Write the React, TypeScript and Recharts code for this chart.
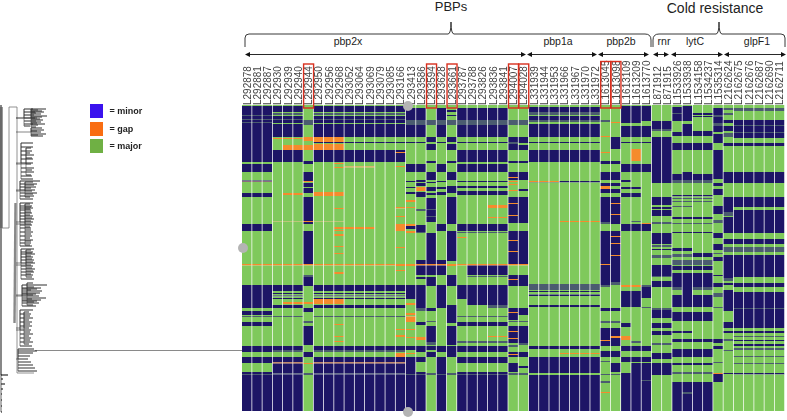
import React from "react";
import {
  BarChart,
  Bar,
  XAxis,
  YAxis,
  Legend,
  ScatterChart,
  Scatter,
  ReferenceLine,
} from "recharts";

// column labels, in the order of the picture
const columnLabels = [
  "L292878", "L292881", "L292887", "L292930", "L292939", "L292940", "L292944", "L292950", "L292956", "L292968",
  "L293052", "L293064", "L293069", "L293079", "L293085", "L293166", "L293413", "L293586", "L293594", "L293628",
  "L293661", "L293787", "L293788", "L293826", "L293836", "L293841", "L294007", "L294028",
  "L331939", "L331944", "L331953", "L331966", "L331967", "L331970", "L331972",
  "L1613045", "L1613098", "L1613109", "L1613209", "L1613770",
  "L871912", "L871915",
  "L1533926", "L1533938", "L1534158", "L1534237", "L1535314",
  "L2162624", "L2162675", "L2162676", "L2162687", "L2162690", "L2162711",
];

const boxedLabels = ["L292944", "L293594", "L293661", "L294007", "L294028", "L1613045", "L1613098"];

// runs: [from row, to row, kind]; m = minor, g = gap, s = mixed rows
type Run = [number, number, string];

const colA: Run[] = [[1, 57, "m"], [10, 11, "s"], [14, 15, "s"], [17, 18, "s"], [59, 67, "m"], [75.5, 77, "m"], [76, 76.5, "g"], [88, 92, "m"], [119, 126, "m"], [159, 160.5, "g"], [180, 203, "m"], [206, 210, "m"], [211, 212, "s"], [217, 221, "m"], [241, 247, "m"], [252, 258, "m"], [267, 306, "m"], [269, 270, "s"]];
const colB: Run[] = [[1, 7, "m"], [8, 10, "s"], [11, 18, "m"], [14, 15, "s"], [19, 32, "m"], [33, 34, "g"], [45, 57, "m"], [116, 116.7, "g"], [159, 160.5, "g"], [180, 186, "m"], [188, 189, "m"], [190.5, 191.5, "m"], [193, 194, "m"], [200, 203, "m"], [211, 212, "s"], [241, 245, "m"], [245, 247, "s"], [252, 306, "m"], [257.5, 258.5, "g"], [268.5, 269.5, "s"]];
const colBb: Run[] = [...colB, [40, 45, "g"], [88, 90, "g"], [197, 199, "g"]];
const colC: Run[] = [[15, 20, "s"], [32, 36, "g"], [40, 45, "g"], [56, 59, "m"], [67, 76, "m"], [76, 77, "g"], [78, 82, "m"], [83, 88, "m"], [92, 119, "m"], [116, 117, "g"], [126, 159, "m"], [159, 160.5, "g"], [170, 172, "s"], [172, 181, "m"], [197, 199, "g"], [203, 207, "m"], [216, 218, "s"], [221, 240, "m"], [247, 252, "m"], [258, 259, "g"], [268, 270, "s"]];
const colD: Run[] = [[1, 7, "m"], [8, 10, "s"], [11, 18, "m"], [14, 15, "s"], [19, 32, "m"], [32, 37, "g"], [37, 38, "m"], [39, 45, "g"], [45, 57, "m"], [87, 91, "g"], [116, 116.7, "g"], [159, 160.5, "g"], [180, 186, "m"], [188, 189, "m"], [190.5, 191.5, "m"], [193, 194, "m"], [194, 199, "g"], [200, 203, "m"], [211, 212, "s"], [241, 245, "m"], [245, 247, "s"], [252, 306, "m"], [257.5, 258.5, "g"], [268.5, 269.5, "s"]];
const colDc: Run[] = [...colD, [58, 59, "g"], [62, 63, "g"], [103, 104, "g"], [122, 124, "g"], [125, 126, "g"], [129, 131, "g"], [141, 142, "g"], [148, 149, "g"], [167, 169, "g"], [219, 220, "g"], [231, 232, "g"], [236, 237, "g"]];
const colE: Run[] = [[1, 7, "m"], [8, 10, "s"], [11, 18, "m"], [14, 15, "s"], [19, 32, "m"], [37, 38, "m"], [45, 57, "m"], [159, 160.5, "g"], [180, 186, "m"], [188, 189, "m"], [190.5, 191.5, "m"], [193, 194, "m"], [200, 203, "m"], [211, 212, "s"], [241, 245, "m"], [245, 247, "s"], [252, 306, "m"], [257.5, 258.5, "g"], [268.5, 269.5, "s"]];
const colEe: Run[] = [...colE, [61.5, 62.5, "g"], [122, 124, "g"]];
const col15: Run[] = [...colE, [47, 48, "g"], [61, 62, "g"], [102, 103.5, "g"], [111, 112, "g"], [119, 126, "g"], [142, 143, "g"], [159, 161, "g"], [165, 166, "g"], [224, 225, "g"], [230, 232, "g"], [248, 252, "g"]];
const col16: Run[] = [[3, 15, "m"], [15, 20, "s"], [20, 32, "m"], [37, 38, "m"], [59, 67, "m"], [76, 77, "m"], [82, 83, "m"], [87, 89, "m"], [95, 97, "g"], [102, 103, "g"], [119, 122, "g"], [121, 124, "m"], [126, 128, "g"], [159, 161, "g"], [180, 194, "m"], [198, 200, "g"], [208, 210, "g"], [211.5, 217, "g"], [224, 225, "g"], [232, 233, "g"], [241, 245, "m"], [248, 249, "g"], [252, 306, "m"], [269, 270, "s"]];
const col17: Run[] = [[3, 15, "m"], [15, 20, "s"], [20, 32, "m"], [37, 38, "m"], [59, 67, "m"], [75, 77, "m"], [78, 81, "m"], [82, 86, "g"], [87, 92, "m"], [104, 106, "s"], [120, 127, "m"], [127, 128, "s"], [155, 159, "m"], [159, 160.5, "g"], [160.5, 170, "m"], [172, 174, "m"], [180, 203, "m"], [203, 206, "s"], [217, 220, "m"], [232, 235, "g"], [241, 247, "m"], [252, 257, "m"], [267, 306, "m"], [269, 270, "s"]];
const col18: Run[] = [[15, 20, "s"], [32, 37, "m"], [39, 45, "m"], [56, 58, "m"], [67, 75, "m"], [77, 78, "m"], [82, 86, "m"], [88, 90, "m"], [93, 117, "m"], [104, 105, "s"], [111, 112, "s"], [128, 159, "m"], [159, 160.5, "g"], [160.5, 170, "m"], [172, 181, "m"], [203, 206, "m"], [216, 217, "s"], [221, 237, "m"], [237, 240, "s"], [241, 245, "m"], [247, 252, "m"], [268, 270, "s"]];
const col19: Run[] = [[3, 15, "m"], [15, 20, "s"], [20, 32, "m"], [37, 38, "m"], [59, 67, "m"], [76, 77, "m"], [82, 84, "m"], [87, 90, "m"], [119, 126, "m"], [155, 159, "m"], [159, 160.5, "g"], [160.5, 170, "m"], [180, 203, "m"], [241, 247, "m"], [252, 306, "m"], [269, 270, "s"]];
const col20: Run[] = [[5, 7, "m"], [10, 11, "m"], [15, 20, "s"], [32, 37, "m"], [39, 45, "m"], [56, 58, "m"], [67, 75, "m"], [81, 88, "m"], [92, 119, "m"], [126, 156, "m"], [159, 161, "g"], [170, 181, "m"], [200, 218, "m"], [221, 240, "m"], [241, 252, "m"], [268, 270, "s"]];
const colF: Run[] = [[3, 15, "m"], [15, 20, "s"], [20, 32, "m"], [37, 38, "m"], [45, 57, "m"], [59, 67, "m"], [76, 77, "m"], [81, 83, "m"], [86, 90, "m"], [119, 126, "m"], [127, 128, "s"], [159, 160.5, "g"], [160.5, 170, "m"], [171, 172, "s"], [180, 200, "m"], [211, 212, "s"], [217, 221, "m"], [236, 238, "s"], [241, 247, "m"], [252, 258, "m"], [267, 306, "m"], [269, 270, "s"]];
const colF21: Run[] = [[3, 15, "m"], [15, 20, "s"], [20, 32, "m"], [37, 38, "m"], [45, 57, "m"], [59, 67, "m"], [76, 77, "m"], [81, 83, "m"], [86, 90, "m"], [119, 126, "m"], [127, 128, "s"], [132, 133, "g"], [159, 160.5, "g"], [180, 194, "m"], [211, 212, "s"], [217, 221, "m"], [236, 238, "s"], [241, 247, "m"], [252, 258, "m"], [267, 306, "m"], [269, 270, "s"]];
const colF24: Run[] = [...colF, [100, 103, "g"], [112, 113, "g"], [200, 203, "s"], [231, 232, "g"]];
const col26: Run[] = [[15, 20, "s"], [32, 45, "m"], [37, 39, "s"], [56, 58, "m"], [67, 75, "m"], [72, 73, "g"], [76, 77, "g"], [79, 80, "g"], [85, 86, "g"], [92, 118, "m"], [98, 99, "g"], [110, 111, "g"], [126, 159, "m"], [135, 136, "g"], [146, 147, "g"], [159, 160.5, "g"], [170, 181, "m"], [174, 175, "g"], [203, 215, "m"], [207, 208, "g"], [216, 217, "s"], [221, 238, "m"], [226, 227, "g"], [233, 234, "g"], [240, 242, "s"], [247, 252, "m"], [249, 250, "g"], [258, 267, "m"], [268, 270, "s"]];
const col27: Run[] = [[15, 20, "s"], [32, 38, "m"], [40, 45, "m"], [56, 58, "m"], [67, 75, "m"], [84, 86, "m"], [92, 118, "m"], [126, 159, "m"], [159, 160.5, "g"], [170, 181, "m"], [203, 210, "m"], [216, 217, "s"], [221, 238, "m"], [238, 240, "s"], [247, 252, "m"], [261, 263, "m"], [268, 270, "s"]];
const colG: Run[] = [[2, 7, "m"], [7, 10, "s"], [11, 15, "m"], [15, 17, "s"], [19, 32, "m"], [37, 38, "m"], [45, 57, "m"], [76, 77.5, "m"], [179, 185, "s"], [186, 187, "m"], [189.5, 191, "m"], [200, 202, "m"], [241, 244, "m"], [252, 268, "m"], [270, 306, "m"]];
const colGa: Run[] = [...colG, [76, 77, "g"]];
const colGb: Run[] = [...colG, [116, 117, "g"], [248, 249, "g"]];
const col35: Run[] = [[15, 17, "s"], [31, 32, "g"], [47, 48, "g"], [56, 59, "m"], [67, 75, "m"], [78, 81, "m"], [81, 84, "g"], [84, 88, "m"], [92, 117, "m"], [117, 119, "s"], [126, 155, "m"], [155, 180, "m"], [159, 160, "g"], [180, 182, "s"], [203, 206, "m"], [216, 218, "s"], [223, 241, "m"], [235, 236, "g"], [246, 252, "m"], [256, 257, "s"], [269, 270, "s"], [276, 278, "s"], [287, 288, "g"]];
const col36: Run[] = [[17, 18, "g"], [32, 44, "m"], [56, 59, "m"], [67, 75, "m"], [78, 81, "m"], [84, 88, "m"], [92, 119, "m"], [98, 99, "g"], [109, 110, "g"], [126, 155, "m"], [131, 132, "g"], [138, 139, "g"], [150, 151, "g"], [155, 177, "m"], [177, 180, "s"], [203, 206, "m"], [216, 218, "s"], [223, 241, "m"], [231, 233, "g"], [246, 252, "m"], [258, 267, "m"], [269, 270, "s"]];
const col37: Run[] = [[1, 18, "m"], [21, 32, "m"], [37, 38, "m"], [59, 67, "m"], [75, 77, "m"], [82, 84, "m"], [88, 92, "m"], [119, 126, "m"], [180, 182, "g"], [186, 202, "m"], [218, 222, "m"], [231, 235, "g"], [241, 246, "m"], [252, 257, "m"], [268, 306, "m"]];
const col38: Run[] = [[1, 18, "m"], [21, 32, "m"], [37, 38, "m"], [44, 56, "g"], [59, 67, "m"], [82, 84, "m"], [88, 92, "m"], [116, 117, "s"], [119, 126, "m"], [180, 182, "g"], [186, 202, "m"], [236, 238, "s"], [241, 246, "m"], [252, 257, "m"], [258, 306, "m"]];
const col39: Run[] = [[1, 16, "m"], [21, 32, "m"], [37, 38, "m"], [59, 67, "m"], [118, 119, "g"], [119, 126, "m"], [180, 182, "s"], [182, 193, "m"], [202, 203, "s"], [241, 246, "m"], [252, 257, "m"], [258, 306, "m"], [275, 276, "s"]];
const colRnr: Run[] = [[16, 24, "m"], [24, 26, "s"], [32, 78, "m"], [92, 100, "m"], [102, 104, "m"], [105, 111, "m"], [117, 119, "s"], [128, 139, "m"], [140, 142, "s"], [144, 145, "m"], [150, 153, "s"], [160, 171, "m"], [171, 172, "s"], [176, 182, "m"], [203, 205, "s"], [205, 213, "m"], [218, 223, "m"], [226, 230, "m"], [238, 240, "s"], [248, 254, "m"], [258, 270, "m"]];
const colLyt0: Run[] = [[2, 16, "m"], [8, 9, "s"], [27, 31, "m"], [38, 45, "m"], [69, 75, "m"], [75, 78, "s"], [90, 91.5, "m"], [93, 94, "s"], [96, 97, "s"], [101, 102, "s"], [112, 114, "m"], [118, 119, "s"], [127, 128, "m"], [143, 146, "m"], [149, 152, "s"], [155, 160, "s"], [161, 165, "m"], [168, 182, "m"], [182, 185, "s"], [190, 202, "m"], [207, 216, "m"], [226, 228, "m"], [234, 237, "m"], [244, 252, "m"], [258, 260, "m"], [267, 269, "s"], [277, 306, "m"]];
const colLyt1: Run[] = [[1, 16, "m"], [19, 31, "m"], [38, 45, "m"], [67, 75, "m"], [75, 78, "s"], [90, 91.5, "m"], [93, 94, "s"], [96, 97, "s"], [101, 102, "s"], [112, 114, "m"], [118, 119, "s"], [127, 128, "m"], [143, 146, "m"], [149, 152, "s"], [155, 160, "s"], [161, 165, "m"], [168, 190, "m"], [190, 202, "m"], [207, 216, "m"], [226, 228, "m"], [234, 237, "m"], [244, 252, "m"], [258, 260, "m"], [267, 269, "s"], [277, 306, "m"], [287, 289, "s"]];
const colLyt2: Run[] = [[8, 10, "m"], [11, 12, "m"], [26, 31, "m"], [38, 45, "m"], [69, 75, "m"], [75, 78, "s"], [90, 91.5, "m"], [93, 94, "s"], [96, 97, "s"], [112, 114, "m"], [118, 119, "s"], [127, 128, "m"], [148, 152, "m"], [155, 160, "s"], [161, 165, "m"], [168, 182, "m"], [182, 185, "s"], [190, 202, "m"], [207, 216, "m"], [234, 237, "m"], [244, 252, "m"], [258, 260, "m"], [267, 269, "s"], [277, 306, "m"]];
const col46: Run[] = [[3, 27, "m"], [10, 12, "s"], [18, 21, "s"], [29, 32, "m"], [32, 38, "m"], [45, 74, "m"], [78, 81, "m"], [84, 90, "m"], [101, 109, "m"], [115, 118, "s"], [128, 133, "m"], [139, 145, "m"], [148, 149, "s"], [152, 156, "m"], [170, 171, "m"], [178, 182, "m"], [188, 192, "s"], [202, 203, "s"], [234, 238, "m"], [241, 244, "m"], [257, 258, "s"], [268, 277, "m"], [268, 269, "g"]];
const col47: Run[] = [[3, 5, "s"], [8, 10, "s"], [15, 18, "m"], [21, 26, "m"], [28, 32, "s"], [38, 41, "m"], [67, 78, "m"], [92, 107, "m"], [107, 111, "s"], [112, 128, "m"], [134, 139, "m"], [142, 147, "s"], [150, 155, "m"], [155, 173, "m"], [173, 176, "s"], [178, 180, "m"], [185, 206, "m"], [217, 223, "m"], [226, 228, "m"], [234, 236, "s"], [245, 246, "s"], [268, 269, "m"]];
const colGlp: Run[] = [[3, 6, "s"], [15, 33, "m"], [20, 21, "s"], [27, 28, "s"], [38, 41, "m"], [67, 78, "m"], [92, 102, "m"], [105, 128, "m"], [134, 139, "m"], [142, 147, "s"], [150, 160, "m"], [155, 172, "m"], [178, 182, "m"], [187, 223, "m"], [203, 204, "s"], [226, 228, "m"], [231, 232, "s"], [235, 236, "m"], [239, 241, "m"], [243, 245, "s"], [251, 252, "s"], [258, 259, "s"], [268, 269.5, "m"]];

const columnRuns: Run[][] = [
  colA, colA, colA, colB, colBb, colBb, colC, colD, colD, colDc,
  colEe, colEe, colEe, colE, colE, col15, col16, col17, col18, col19,
  col20, colF21, colF, colF, colF24, colF24, col26, col27,
  colGa, colGa, colGa, colGb, colGb, colGb, colGb,
  col35, col36, col37, col38, col39,
  colRnr, colRnr,
  colLyt0, colLyt1, colLyt2, colLyt2, col46,
  col47, colGlp, colGlp, colGlp, colGlp, colGlp,
];

const kindColors: Record<string, string> = { M: "#7fc95c", m: "#1d1566", g: "#f58b2c", s: "#4b5c70" };

const legendItems = [
  { label: "= minor", color: "#3a12ee" },
  { label: "= gap", color: "#f96d12" },
  { label: "= major", color: "#6fb044" },
];

// tree clades: spine position and tips as [row position, tip end]
const cladeA = [[109, 46], [110, 38], [111, 42], [112, 44], [113, 36], [114, 41], [116, 47], [117, 42], [118, 37], [119, 40], [120, 43], [122, 41], [123, 37], [124, 45], [125, 38], [127, 36]];
const cladeA2 = [[109, 33], [112, 35], [115, 34], [118, 35], [121, 36], [124, 33], [126, 30]];
const cladeB = [[128, 42], [130, 44], [131, 37], [132, 41], [134, 46], [135, 38], [136, 43]];
const cladeC = [[143, 33], [147, 33], [151, 32], [155, 34], [159, 33], [163, 33], [168, 34], [172, 34], [176, 32], [179, 33]];
const cladeC2 = [[148, 31], [153, 30], [158, 32], [164, 31], [170, 32], [175, 31]];
const cladeD = [[181, 40], [184, 37], [187, 36], [190, 35], [193, 37], [196, 34], [199, 33]];
const cladeD2 = [[182, 33], [185, 34], [188, 31], [191, 32], [194, 33], [197, 30]];
const cladeE = [[203, 33], [206, 32], [208, 33], [210, 31], [213, 32], [216, 33], [219, 34], [222, 33], [225, 32], [228, 31], [232, 33], [236, 32], [240, 33], [243, 31], [246, 32]];
const cladeE2 = [[204, 30], [207, 31], [209, 30], [212, 31], [215, 30], [218, 32], [221, 31], [224, 31], [227, 30], [230, 31], [234, 31], [238, 30], [241, 31], [245, 30]];
const cladeF = [[249, 34], [252, 33], [254, 35], [257, 33], [260, 34], [263, 35], [266, 33], [269, 35], [272, 34], [275, 33], [279, 34]];
const cladeF2 = [[250, 31], [253, 32], [256, 31], [259, 32], [262, 33], [265, 31], [268, 32], [271, 33], [274, 31], [277, 32]];
const cladeG = [[285, 47], [288, 41], [289, 37], [291, 42], [293, 40], [294, 36], [296, 39], [298, 46], [300, 41], [301, 37], [303, 39], [306, 36]];
const cladeG2 = [[283, 33], [287, 34], [290, 31], [295, 33], [299, 32], [302, 34], [305, 33]];
const cladeH = [[310, 33], [314, 31], [318, 33], [322, 32], [326, 32], [330, 31], [334, 33], [338, 31], [342, 33], [346, 32]];
const cladeH2 = [[312, 29], [316, 30], [320, 29], [324, 30], [328, 29], [332, 30], [336, 29], [340, 30], [344, 29]];
const cladeI = [[349, 34], [351, 37], [353, 33], [356, 30], [359, 28], [362, 31], [365, 33], [368, 35], [371, 37]];
const cladeJ = [[375, 8], [379, 3], [384, 5], [389, 3], [394, 2], [400, 2], [406, 2], [412, 2]];

const treeClades = [
  { spine: 31, tips: cladeA },
  { spine: 24, tips: cladeA2 },
  { spine: 31, tips: cladeB },
  { spine: 21, tips: cladeC },
  { spine: 26, tips: cladeC2 },
  { spine: 20, tips: cladeD },
  { spine: 25, tips: cladeD2 },
  { spine: 20, tips: cladeE },
  { spine: 25, tips: cladeE2 },
  { spine: 21, tips: cladeF },
  { spine: 26, tips: cladeF2 },
  { spine: 22, tips: cladeG },
  { spine: 27, tips: cladeG2 },
  { spine: 20, tips: cladeH },
  { spine: 24, tips: cladeH2 },
  { spine: 18, tips: cladeI },
];

const trunkOuter = [{ x: 1, y: 105 }, { x: 1, y: 375 }];
const trunkLink = [{ x: 2, y: 228 }, { x: 9, y: 228 }, { x: 9, y: 107 }, { x: 17, y: 107 }, { x: 17, y: 373 }, { x: 34, y: 373 }];
const trunkInner = [{ x: 15.5, y: 203 }, { x: 14.5, y: 323 }];
const trunkGrey = [{ x: 1.5, y: 107 }, { x: 1.5, y: 228 }];
const tailPoints = [{ x: 2, y: 375 }, ...cladeJ.flatMap(([y, x]) => [{ x: 1, y }, { x, y }, { x: 1, y }])];
const grayDots = [{ x: 243, y: 248 }, { x: 408, y: 412 }, { x: 408, y: 106 }];

const cladePoints = (spine: number, tips: number[][]) => {
  const mid = tips[Math.floor(tips.length / 2)][0];
  const pts = [{ x: 16, y: mid }, { x: spine, y: mid }];
  tips.forEach(([y, x]) => {
    pts.push({ x: spine, y }, { x, y }, { x: spine, y });
  });
  return pts;
};

// paint runs onto half rows and turn them into consecutive stack segments
const HALF_ROWS = 612;
const tableSegments = columnRuns.map(runs => {
  const cells = new Array(HALF_ROWS).fill("M");
  runs.forEach(([from, to, kind]) => {
    for (let i = Math.round(from * 2); i < Math.round(to * 2); i++) cells[i] = kind;
  });
  const segs: { kind: string; size: number }[] = [];
  cells.forEach(kind => {
    const last = segs[segs.length - 1];
    if (last && last.kind === kind) last.size += 0.5;
    else segs.push({ kind, size: 0.5 });
  });
  return segs;
});

const tableData = columnLabels.map((name, i) => {
  const row: Record<string, string | number> = { name };
  tableSegments[i].forEach((seg, j) => {
    row[`s${j}`] = seg.size;
    row[`k${j}`] = seg.kind;
  });
  return row;
});

const maxSegments = Math.max(...tableSegments.map(s => s.length));
const segmentIndexes = Array.from({ length: maxSegments }, (_, i) => i);

const ColumnTick = ({ x, payload }: any) => {
  const boxed = boxedLabels.includes(payload.value);
  const long = payload.value.length > 7;
  return (
    <g>
      <text
        transform={`translate(${x + 3.6},105) rotate(-90)`}
        fontSize={10}
        fontFamily="Liberation Sans"
        fill="#444"
      >
        {payload.value}
      </text>
      {boxed && (
        <rect
          x={x - 5}
          y={long ? 61.5 : 64}
          width={10}
          height={long ? 46.5 : 44}
          fill="none"
          stroke="#d8301f"
          strokeWidth={1.4}
        />
      )}
    </g>
  );
};

const SegmentShape = (index: number) => (props: any) => {
  const { x, y, width, height, payload } = props;
  if (!payload[`s${index}`]) return <g />;
  return (
    <rect
      x={x}
      y={Math.min(y, y + height)}
      width={width}
      height={Math.abs(height)}
      fill={kindColors[payload[`k${index}`]]}
    />
  );
};

const LegendBox = () => (
  <div style={{ fontFamily: "Liberation Sans", fontSize: 9, fontWeight: "bold", color: "#222" }}>
    {legendItems.map(item => (
      <div key={item.label} style={{ display: "flex", alignItems: "center", height: 14, marginBottom: 3.7 }}>
        <span style={{ width: 13.5, height: 14, background: item.color, marginRight: 6.5 }} />
        {item.label}
      </div>
    ))}
  </div>
);

const arrowSpans = [
  { from: 245, to: 526 },
  { from: 527, to: 597 },
  { from: 598, to: 649 },
  { from: 653, to: 669 },
  { from: 671, to: 723 },
  { from: 724, to: 786 },
];

const geneLabels = [
  { text: "pbp2x", x: 348 },
  { text: "pbp1a", x: 558 },
  { text: "pbp2b", x: 621 },
  { text: "rnr", x: 664 },
  { text: "lytC", x: 695 },
  { text: "glpF1", x: 757 },
];

const Annotations = () => (
  <svg width={787} height={70} style={{ position: "absolute", left: 0, top: 0 }}>
    <g fontFamily="Liberation Sans" fill="#222">
      <text x={451} y={11} fontSize={13} textAnchor="middle">PBPs</text>
      <text x={715} y={13} fontSize={14} textAnchor="middle">Cold resistance</text>
      {geneLabels.map(g => (
        <text key={g.text} x={g.x} y={45} fontSize={10.5} textAnchor="middle">{g.text}</text>
      ))}
    </g>
    <g fill="none" stroke="#222" strokeWidth={0.9}>
      <path d="M245 47 V38 Q245 34 249 34 H448 Q451 34 451 22 Q451 34 454 34 H645 Q651 34 651 40 V47" />
      <path d="M653 47 V40 Q653 34 659 34 H716 Q719 34 719 22 Q719 34 722 34 H781 Q785 34 785 38 V47" />
    </g>
    {arrowSpans.map(a => (
      <g key={a.from}>
        <line x1={a.from + 3} x2={a.to - 3} y1={54.5} y2={54.5} stroke="#111" strokeWidth={0.9} />
        <path d={`M${a.from} 54.5 l5 -2.6 v5.2 z M${a.to} 54.5 l-5 -2.6 v5.2 z`} fill="#111" />
      </g>
    ))}
  </svg>
);

export default function App() {
  const noDot = () => <g />;
  return (
    <div style={{ position: "absolute", left: 0, top: 0, width: 787, height: 420, background: "#fff", overflow: "hidden" }}>
      <div style={{ filter: "blur(0.35px)" }}>
        <BarChart
          width={787}
          height={420}
          data={tableData}
          margin={{ top: 0, right: 2, bottom: 9, left: 242 }}
          barSize={9.5}
        >
          <XAxis
            dataKey="name"
            orientation="top"
            height={105}
            interval={0}
            axisLine={false}
            tickLine={false}
            tick={ColumnTick}
            tickMargin={0}
          />
          <YAxis type="number" domain={[0, 306]} reversed hide />
          <Legend
            layout="vertical"
            align="center"
            verticalAlign="middle"
            content={LegendBox}
            wrapperStyle={{ left: 89.5, top: 104, width: 80, height: 52 }}
          />
          {segmentIndexes.map(i => (
            <Bar
              key={i}
              dataKey={`s${i}`}
              stackId="cells"
              isAnimationActive={false}
              shape={SegmentShape(i)}
            />
          ))}
        </BarChart>
      </div>

      <Annotations />

      <div style={{ position: "absolute", left: 0, top: 0, pointerEvents: "none" }}>
        <ScatterChart width={787} height={420} margin={{ top: 0, right: 0, bottom: 0, left: 0 }}>
          <XAxis type="number" dataKey="x" domain={[0, 787]} hide />
          <YAxis type="number" dataKey="y" domain={[0, 420]} reversed hide />
          <ReferenceLine
            segment={[{ x: 35, y: 350.5 }, { x: 242, y: 350.5 }]}
            stroke="#8a8a8a"
            strokeWidth={1}
          />
          <Scatter data={trunkGrey} line={{ stroke: "#999", strokeWidth: 3 }} shape={noDot} isAnimationActive={false} />
          <Scatter data={trunkOuter} line={{ stroke: "#555", strokeWidth: 1.4 }} shape={noDot} isAnimationActive={false} />
          <Scatter data={trunkLink} line={{ stroke: "#777", strokeWidth: 0.8 }} shape={noDot} isAnimationActive={false} />
          <Scatter data={trunkInner} line={{ stroke: "#888", strokeWidth: 2.4 }} shape={noDot} isAnimationActive={false} />
          <Scatter data={tailPoints} line={{ stroke: "#222", strokeWidth: 0.7 }} shape={noDot} isAnimationActive={false} />
          {treeClades.map((c, i) => (
            <Scatter
              key={i}
              data={cladePoints(c.spine, c.tips)}
              line={{ stroke: "#333", strokeWidth: 0.6 }}
              shape={noDot}
              isAnimationActive={false}
            />
          ))}
          <Scatter
            data={grayDots}
            fill="#b4b4b4"
            fillOpacity={0.9}
            shape={(p: any) => <circle cx={p.cx} cy={p.cy} r={5} fill="#b4b4b4" />}
            isAnimationActive={false}
          />
        </ScatterChart>
      </div>
    </div>
  );
}
